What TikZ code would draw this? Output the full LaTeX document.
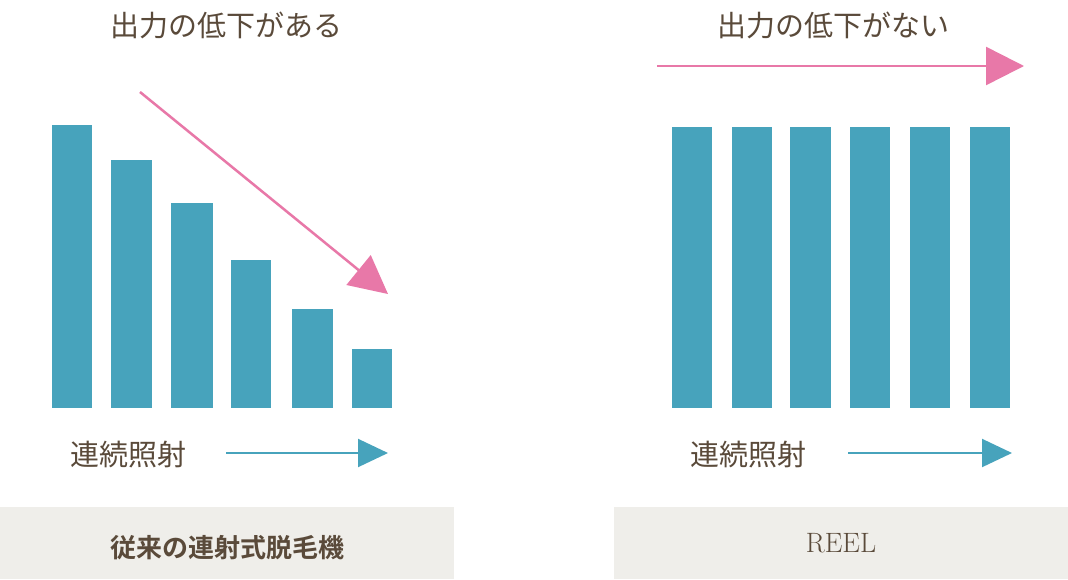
\documentclass[tikz,border=0pt]{standalone}
\usepackage{fontspec}
\newfontfamily\jp{Noto Sans CJK JP}
\newfontfamily\jpb{Noto Sans CJK JP Bold}
\usetikzlibrary{arrows.meta}
\definecolor{teal}{HTML}{47A3BC}
\definecolor{pinkc}{HTML}{E878A8}
\definecolor{txt}{HTML}{5A4A3A}
\definecolor{boxc}{HTML}{EFEEEA}
\tikzset{bar/.style={fill=teal,draw=none},
 lbl/.style={text=txt,font=\jp\fontsize{29}{32}\selectfont,inner sep=0},
 pinkarrow/.style={draw=pinkc,line width=2.5pt,-{Triangle[length=38pt,width=38pt]}},
 bluearrow/.style={draw=teal,line width=2pt,-{Triangle[length=30pt,width=28pt]}},
 box/.style={fill=boxc,draw=none}}
\begin{document}
\begin{tikzpicture}[x=1pt,y=-1pt]
\useasboundingbox (0,0) rectangle (1068,579);
\fill[white] (0,0) rectangle (1068,579);
% left bars
\foreach \a/\b/\t [count=\i] in {52/92/125,111/152/160,171/213/203,231/271/260,292/333/309,352/392/349}
  \fill[bar] (\a,\t) rectangle (\b,408);
\foreach \a/\b in {672/712,732/772,790/831,850/890,910/950,970/1010}
  \fill[bar] (\a,127) rectangle (\b,408);
\node[lbl] (t1) at (226,25) {出力の低下がある};
\node[lbl] (t2) at (833,25) {出力の低下がない};
\coordinate (p1s) at (140,92); \coordinate (p1e) at (388,294);
\draw[pinkarrow] (p1s) -- (p1e);
\coordinate (p2s) at (657,66); \coordinate (p2e) at (1024,66);
\draw[pinkarrow] (p2s) -- (p2e);
\node[lbl] (c1) at (128,455) {連続照射};
\node[lbl] (c2) at (748,455) {連続照射};
\coordinate (b1s) at (226,453); \coordinate (b1e) at (388,453);
\draw[bluearrow] (b1s) -- (b1e);
\coordinate (b2s) at (848,453); \coordinate (b2e) at (1012,453);
\draw[bluearrow] (b2s) -- (b2e);
\fill[box] (0,507) rectangle (454,579);
\fill[box] (614,507) rectangle (1068,579);
\node[text=txt,font=\jpb\fontsize{26}{30}\selectfont,inner sep=0] (l1) at (227,548) {従来の連射式脱毛機};
\node[text=txt,font=\fontsize{28}{30}\selectfont,inner sep=0] (l2) at (841,543) {REEL};
\end{tikzpicture}
\end{document}
